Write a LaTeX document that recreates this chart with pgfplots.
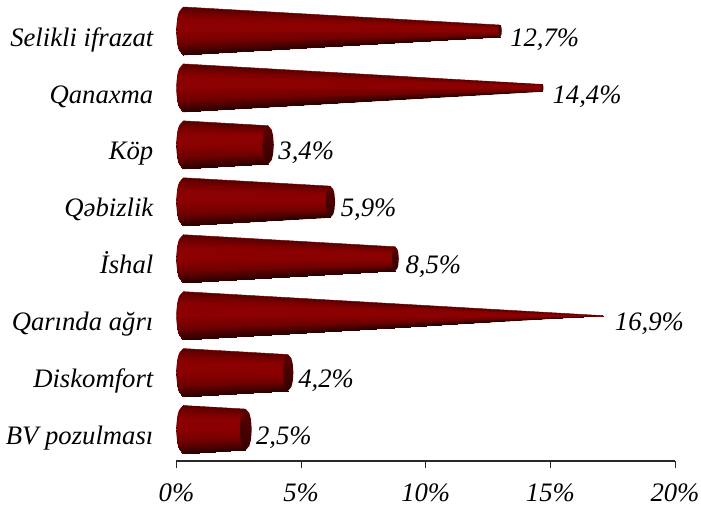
\documentclass[border=0pt]{standalone}
\usepackage{fontspec}
\setmainfont{Liberation Serif}
\usepackage{pgfplots}
\pgfplotsset{compat=1.18}
\definecolor{capc}{RGB}{72,0,0}
\definecolor{capt}{RGB}{92,0,0}
\definecolor{capb}{RGB}{52,0,0}
\definecolor{axc}{RGB}{40,40,40}
\definecolor{edgeT}{RGB}{100,0,0}
\definecolor{edgeB}{RGB}{58,0,0}
\definecolor{edgeL}{RGB}{112,0,0}
\pgfplotsset{
 conesurf/.style={surf,shader=interp,mesh/rows=7,point meta=explicit,forget plot},
 capfill/.style={shade,top color=capt,bottom color=capb,draw=none,forget plot},
 under/.style={shade,top color=edgeT,bottom color=edgeB,draw=none,forget plot},
 topline/.style={draw=edgeT,line width=0.45pt,forget plot},
 botline/.style={draw=edgeB,line width=0.45pt,forget plot},
 leftline/.style={draw=edgeL,line width=0.45pt,smooth,forget plot},
}
\begin{document}
\begin{tikzpicture}[x=1pt,y=1pt]
\useasboundingbox (0,0) rectangle (701,507);
\begin{axis}[
 at={(176.5pt,46pt)},anchor=south west,scale only axis,
 width=498.5pt,height=458.45pt,clip=false,
 xmin=0,xmax=20,ymin=0.447,ymax=8.5,
 axis x line*=bottom,axis y line*=left,
 y axis line style={draw=none},
 x axis line style={-,draw=axc,line width=1.6pt},
 xtick={0,5,10,15,20},xticklabels={0\%,5\%,10\%,15\%,20\%},
 ytick={0.735,1.735,2.735,3.735,4.735,5.735,6.735,7.735},
 yticklabels={BV pozulması,Diskomfort,Qarında ağrı,İshal,Qəbizlik,Köp,Qanaxma,Selikli ifrazat},
 tick align=outside,
 x tick style={draw=axc,line width=0.9pt},
 major tick length=7pt,
 y tick style={draw=none},
 tick label style={font=\fontsize{26.67}{30}\selectfont\itshape},
 y tick label style={anchor=base east,inner sep=0pt,xshift=-16pt},
 x tick label style={anchor=base,inner sep=0pt,yshift=-33pt},
 colormap={cone}{rgb255(0)=(42,0,0) rgb255(10)=(70,0,0) rgb255(25)=(112,0,0) rgb255(50)=(139,0,0) rgb255(75)=(139,0,0) rgb255(90)=(112,0,0) rgb255(100)=(84,0,0)},
 point meta min=0,point meta max=1,
]
% BV pozulmasi 2.5
\addplot[under] coordinates {(0.28,0.578)(0.112,0.663)(0.0375,0.789)(0,1)(0.0375,1.211)(0.112,1.337)(0.28,1.422)(2.78,1.359)(2.78,0.641)} --cycle;
\addplot[conesurf,mesh/cols=2] table[meta=m] {
x y m
0.28 0.578 0
2.78 0.641 0
0.112 0.663 0.1
2.637 0.712 0.1
0.0375 0.789 0.25
2.573 0.820 0.25
0 1 0.5
2.541 1 0.5
0.0375 1.211 0.75
2.573 1.180 0.75
0.112 1.337 0.9
2.637 1.288 0.9
0.28 1.422 1
2.78 1.359 1
};
\addplot[leftline] coordinates {(0.28,0.578)(0.112,0.663)(0.0375,0.789)(0,1)(0.0375,1.211)(0.112,1.337)(0.28,1.422)};
\addplot[topline] coordinates {(0.28,1.422)(2.78,1.359)};
\addplot[botline] coordinates {(0.28,0.578)(2.78,0.641)};
\addplot[capfill] coordinates {(2.78,1.359)(2.923,1.288)(2.987,1.180)(3.019,1)(2.987,0.820)(2.923,0.712)(2.78,0.641)(2.637,0.712)(2.573,0.820)(2.541,1)(2.573,1.180)(2.637,1.288)} --cycle;
% Diskomfort 4.2
\addplot[under] coordinates {(0.28,1.578)(0.112,1.663)(0.0375,1.789)(0,2)(0.0375,2.211)(0.112,2.337)(0.28,2.422)(4.48,2.317)(4.48,1.683)} --cycle;
\addplot[conesurf,mesh/cols=2] table[meta=m] {
x y m
0.28 1.578 0
4.48 1.683 0
0.112 1.663 0.1
4.354 1.746 0.1
0.0375 1.789 0.25
4.298 1.841 0.25
0 2 0.5
4.270 2 0.5
0.0375 2.211 0.75
4.298 2.159 0.75
0.112 2.337 0.9
4.354 2.254 0.9
0.28 2.422 1
4.48 2.317 1
};
\addplot[leftline] coordinates {(0.28,1.578)(0.112,1.663)(0.0375,1.789)(0,2)(0.0375,2.211)(0.112,2.337)(0.28,2.422)};
\addplot[topline] coordinates {(0.28,2.422)(4.48,2.317)};
\addplot[botline] coordinates {(0.28,1.578)(4.48,1.683)};
\addplot[capfill] coordinates {(4.48,2.317)(4.606,2.254)(4.662,2.159)(4.690,2)(4.662,1.841)(4.606,1.746)(4.48,1.683)(4.354,1.746)(4.298,1.841)(4.270,2)(4.298,2.159)(4.354,2.254)} --cycle;
% Qarinda agri 16.9
\addplot[under] coordinates {(0.28,2.578)(0.112,2.663)(0.0375,2.789)(0,3)(0.0375,3.211)(0.112,3.337)(0.28,3.422)(17.12,3)} --cycle;
\addplot[conesurf,mesh/cols=4] table[meta=m] {
x y m
0.28 2.578 0
8.715 2.789 0
13.776 2.916 0
17.15 2.999 0
0.112 2.663 0.1
8.631 2.831 0.1
13.742 2.933 0.1
17.15 2.999 0.1
0.0375 2.789 0.25
8.594 2.895 0.25
13.727 2.958 0.25
17.15 3 0.25
0 3 0.5
8.575 3 0.5
13.72 3 0.5
17.15 3 0.5
0.0375 3.211 0.75
8.594 3.105 0.75
13.727 3.042 0.75
17.15 3 0.75
0.112 3.337 0.9
8.631 3.169 0.9
13.742 3.068 0.9
17.15 3.001 0.9
0.28 3.422 1
8.715 3.211 1
13.776 3.084 1
17.15 3.001 1
};
\addplot[leftline] coordinates {(0.28,2.578)(0.112,2.663)(0.0375,2.789)(0,3)(0.0375,3.211)(0.112,3.337)(0.28,3.422)};
\addplot[topline] coordinates {(0.28,3.422)(17.12,3)};
\addplot[botline] coordinates {(0.28,2.578)(17.12,3)};
% Ishal 8.5
\addplot[under] coordinates {(0.28,3.578)(0.112,3.663)(0.0375,3.789)(0,4)(0.0375,4.211)(0.112,4.337)(0.28,4.422)(8.78,4.210)(8.78,3.790)} --cycle;
\addplot[conesurf,mesh/cols=2] table[meta=m] {
x y m
0.28 3.578 0
8.78 3.790 0
0.112 3.663 0.1
8.697 3.832 0.1
0.0375 3.789 0.25
8.660 3.895 0.25
0 4 0.5
8.641 4 0.5
0.0375 4.211 0.75
8.660 4.105 0.75
0.112 4.337 0.9
8.697 4.168 0.9
0.28 4.422 1
8.78 4.210 1
};
\addplot[leftline] coordinates {(0.28,3.578)(0.112,3.663)(0.0375,3.789)(0,4)(0.0375,4.211)(0.112,4.337)(0.28,4.422)};
\addplot[topline] coordinates {(0.28,4.422)(8.78,4.210)};
\addplot[botline] coordinates {(0.28,3.578)(8.78,3.790)};
\addplot[capfill] coordinates {(8.78,4.210)(8.863,4.168)(8.900,4.105)(8.919,4)(8.900,3.895)(8.863,3.832)(8.78,3.790)(8.697,3.832)(8.660,3.895)(8.641,4)(8.660,4.105)(8.697,4.168)} --cycle;
% Qebizlik 5.9
\addplot[under] coordinates {(0.28,4.578)(0.112,4.663)(0.0375,4.789)(0,5)(0.0375,5.211)(0.112,5.337)(0.28,5.422)(6.18,5.275)(6.18,4.725)} --cycle;
\addplot[conesurf,mesh/cols=2] table[meta=m] {
x y m
0.28 4.578 0
6.18 4.725 0
0.112 4.663 0.1
6.071 4.780 0.1
0.0375 4.789 0.25
6.022 4.863 0.25
0 5 0.5
5.998 5 0.5
0.0375 5.211 0.75
6.022 5.137 0.75
0.112 5.337 0.9
6.071 5.220 0.9
0.28 5.422 1
6.18 5.275 1
};
\addplot[leftline] coordinates {(0.28,4.578)(0.112,4.663)(0.0375,4.789)(0,5)(0.0375,5.211)(0.112,5.337)(0.28,5.422)};
\addplot[topline] coordinates {(0.28,5.422)(6.18,5.275)};
\addplot[botline] coordinates {(0.28,4.578)(6.18,4.725)};
\addplot[capfill] coordinates {(6.18,5.275)(6.289,5.220)(6.338,5.137)(6.362,5)(6.338,4.863)(6.289,4.780)(6.18,4.725)(6.071,4.780)(6.022,4.863)(5.998,5)(6.022,5.137)(6.071,5.220)} --cycle;
% Kop 3.4
\addplot[under] coordinates {(0.28,5.578)(0.112,5.663)(0.0375,5.789)(0,6)(0.0375,6.211)(0.112,6.337)(0.28,6.422)(3.68,6.337)(3.68,5.663)} --cycle;
\addplot[conesurf,mesh/cols=2] table[meta=m] {
x y m
0.28 5.578 0
3.68 5.663 0
0.112 5.663 0.1
3.546 5.730 0.1
0.0375 5.789 0.25
3.486 5.832 0.25
0 6 0.5
3.456 6 0.5
0.0375 6.211 0.75
3.486 6.168 0.75
0.112 6.337 0.9
3.546 6.270 0.9
0.28 6.422 1
3.68 6.337 1
};
\addplot[leftline] coordinates {(0.28,5.578)(0.112,5.663)(0.0375,5.789)(0,6)(0.0375,6.211)(0.112,6.337)(0.28,6.422)};
\addplot[topline] coordinates {(0.28,6.422)(3.68,6.337)};
\addplot[botline] coordinates {(0.28,5.578)(3.68,5.663)};
\addplot[capfill] coordinates {(3.68,6.337)(3.814,6.270)(3.874,6.168)(3.904,6)(3.874,5.832)(3.814,5.730)(3.68,5.663)(3.546,5.730)(3.486,5.832)(3.456,6)(3.486,6.168)(3.546,6.270)} --cycle;
% Qanaxma 14.4
\addplot[under] coordinates {(0.28,6.578)(0.112,6.663)(0.0375,6.789)(0,7)(0.0375,7.211)(0.112,7.337)(0.28,7.422)(14.68,7.062)(14.68,6.938)} --cycle;
\addplot[conesurf,mesh/cols=2] table[meta=m] {
x y m
0.28 6.578 0
14.68 6.938 0
0.112 6.663 0.1
14.655 6.950 0.1
0.0375 6.789 0.25
14.644 6.969 0.25
0 7 0.5
14.639 7 0.5
0.0375 7.211 0.75
14.644 7.031 0.75
0.112 7.337 0.9
14.655 7.050 0.9
0.28 7.422 1
14.68 7.062 1
};
\addplot[leftline] coordinates {(0.28,6.578)(0.112,6.663)(0.0375,6.789)(0,7)(0.0375,7.211)(0.112,7.337)(0.28,7.422)};
\addplot[topline] coordinates {(0.28,7.422)(14.68,7.062)};
\addplot[botline] coordinates {(0.28,6.578)(14.68,6.938)};
\addplot[fill=capc,draw=none,forget plot] coordinates {(14.68,7.062)(14.705,7.050)(14.716,7.031)(14.721,7)(14.716,6.969)(14.705,6.950)(14.68,6.938)(14.655,6.950)(14.644,6.969)(14.639,7)(14.644,7.031)(14.655,7.050)} --cycle;
% Selikli ifrazat 12.7
\addplot[under] coordinates {(0.28,7.578)(0.112,7.663)(0.0375,7.789)(0,8)(0.0375,8.211)(0.112,8.337)(0.28,8.422)(12.98,8.105)(12.98,7.895)} --cycle;
\addplot[conesurf,mesh/cols=2] table[meta=m] {
x y m
0.28 7.578 0
12.98 7.895 0
0.112 7.663 0.1
12.938 7.916 0.1
0.0375 7.789 0.25
12.920 7.948 0.25
0 8 0.5
12.910 8 0.5
0.0375 8.211 0.75
12.920 8.052 0.75
0.112 8.337 0.9
12.938 8.084 0.9
0.28 8.422 1
12.98 8.105 1
};
\addplot[leftline] coordinates {(0.28,7.578)(0.112,7.663)(0.0375,7.789)(0,8)(0.0375,8.211)(0.112,8.337)(0.28,8.422)};
\addplot[topline] coordinates {(0.28,8.422)(12.98,8.105)};
\addplot[botline] coordinates {(0.28,7.578)(12.98,7.895)};
\addplot[fill=capc,draw=none,forget plot] coordinates {(12.98,8.105)(13.022,8.084)(13.040,8.052)(13.050,8)(13.040,7.948)(13.022,7.916)(12.98,7.895)(12.938,7.916)(12.920,7.948)(12.910,8)(12.920,8.052)(12.938,8.084)} --cycle;
% data labels
\addplot[draw=none,mark=none,forget plot,point meta=explicit symbolic,
  nodes near coords,
  nodes near coords style={anchor=base west,inner sep=0pt,xshift=17pt,yshift=0pt,text=black,font=\fontsize{26.67}{30}\selectfont\itshape}]
 table[meta=lab] {
x y lab
2.5 0.735 {2,5\%}
4.2 1.735 {4,2\%}
16.9 2.735 {16,9\%}
8.5 3.735 {8,5\%}
5.9 4.735 {5,9\%}
3.4 5.735 {3,4\%}
14.4 6.735 {14,4\%}
12.7 7.735 {12,7\%}
};
\end{axis}
\end{tikzpicture}
\end{document}
